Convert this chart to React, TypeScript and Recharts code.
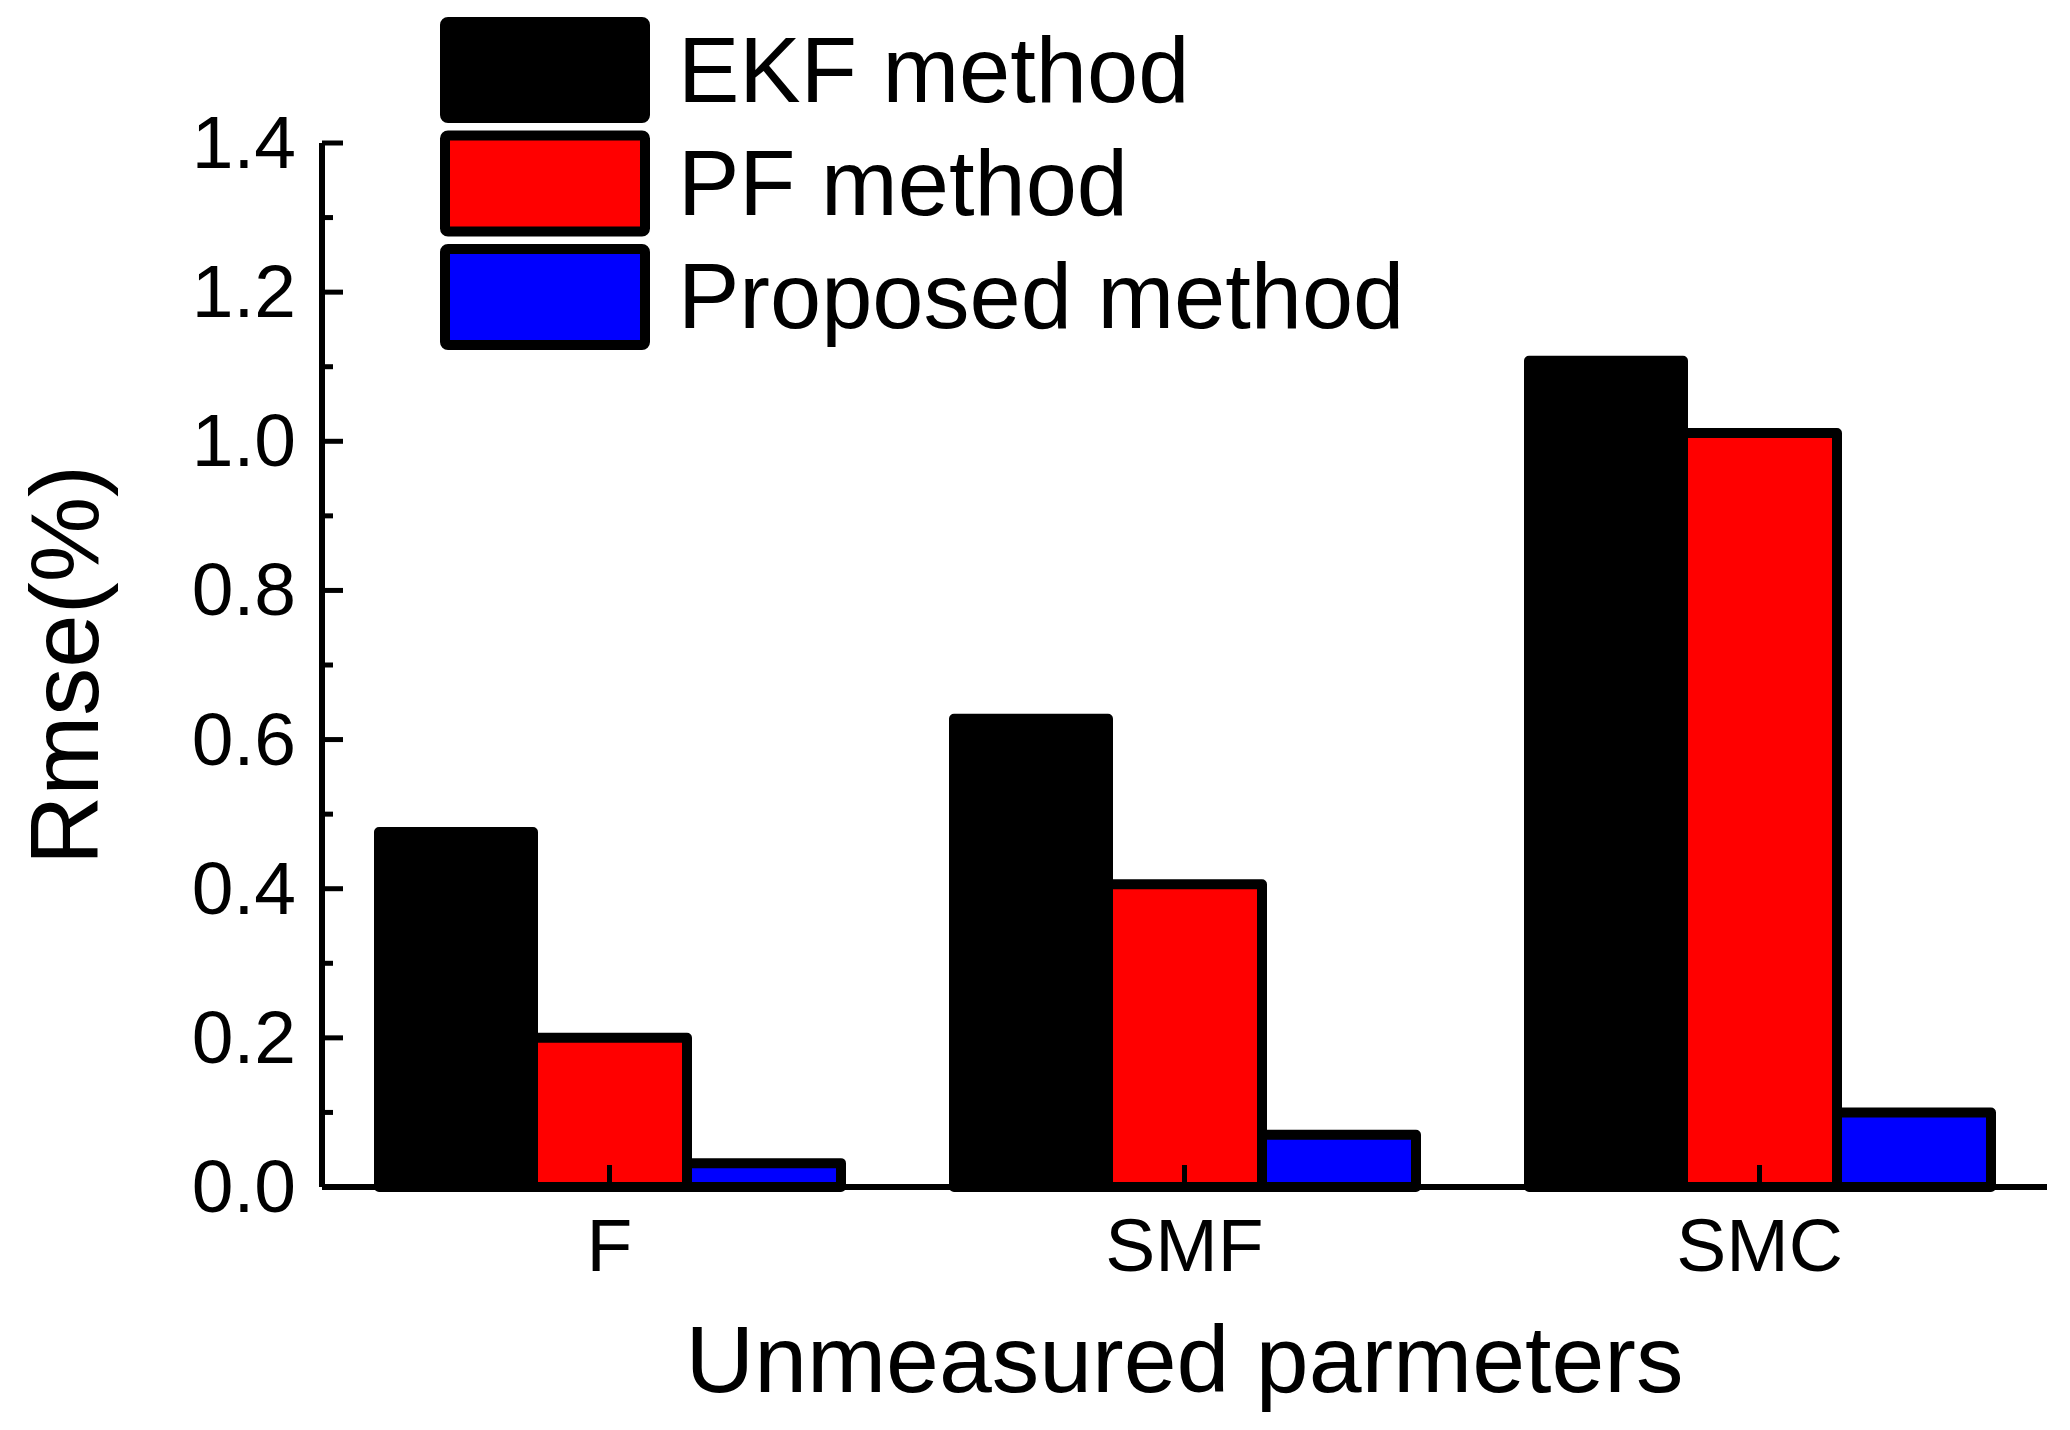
import { BarChart, Bar, XAxis, YAxis, Legend, Label } from "recharts";

const CATEGORIES = ["F", "SMF", "SMC"];
const EKF = [0.476, 0.628, 1.108];
const PF = [0.2, 0.406, 1.011];
const PROPOSED = [0.032, 0.07, 0.1];

const Y_TICKS = [0, 0.1, 0.2, 0.3, 0.4, 0.5, 0.6, 0.7, 0.8, 0.9, 1.0, 1.1, 1.2, 1.3, 1.4];
const Y_LABELS = ["0.0", "", "0.2", "", "0.4", "", "0.6", "", "0.8", "", "1.0", "", "1.2", "", "1.4"];

const SERIES = [
  { key: "ekf", name: "EKF method", color: "#000000" },
  { key: "pf", name: "PF method", color: "#ff0000" },
  { key: "proposed", name: "Proposed method", color: "#0000ff" },
];

const FONT = "'Liberation Sans', Arial, sans-serif";

const data = CATEGORIES.map((name, i) => ({
  name,
  ekf: EKF[i],
  pf: PF[i],
  proposed: PROPOSED[i],
}));

function YTick({ x, y, index }: any) {
  const label = Y_LABELS[index] ?? "";
  const major = label !== "";
  return (
    <g>
      <line x1={x} y1={y} x2={x + (major ? 21 : 11)} y2={y} stroke="#000" strokeWidth={5} />
      {major && (
        <text x={x - 26} y={y + 25} textAnchor="end" fontSize={75} fontFamily={FONT} fill="#000">
          {label}
        </text>
      )}
    </g>
  );
}

function XTick({ x, y, payload }: any) {
  return (
    <g>
      <line x1={x} y1={y} x2={x} y2={y - 22} stroke="#000" strokeWidth={5} />
      <text x={x} y={y + 84} textAnchor="middle" fontSize={75} fontFamily={FONT} fill="#000">
        {payload.value}
      </text>
    </g>
  );
}

function LegendBox({ payload }: any) {
  const items = SERIES.map((s) => {
    const p = (payload || []).find((e: any) => e.dataKey === s.key);
    return { name: p?.value ?? s.name, color: p?.color ?? s.color };
  });
  return (
    <svg width={1000} height={345} style={{ display: "block", overflow: "visible" }}>
      {items.map((e, i) => (
        <g key={e.name}>
          <rect
            x={5}
            y={5 + i * 113.5}
            width={200}
            height={96}
            rx={3}
            fill={e.color}
            stroke="#000"
            strokeWidth={10}
          />
          <text x={238} y={85 + i * 113} fontSize={92} fontFamily={FONT} fill="#000">
            {e.name}
          </text>
        </g>
      ))}
    </svg>
  );
}

export default function App() {
  return (
    <div style={{ position: "absolute", left: 0, top: 0, background: "#fff" }}>
      <BarChart
        width={2070}
        height={1430}
        data={data}
        margin={{ top: 143, right: 23, left: 0, bottom: 0 }}
        barCategoryGap={57}
        barGap={0}
      >
        <Legend
          layout="vertical"
          align="center"
          verticalAlign="middle"
          content={<LegendBox />}
          wrapperStyle={{ left: 440, top: 17, width: 1000, height: 345 }}
        />
        {SERIES.map((s) => (
          <Bar
            key={s.key}
            dataKey={s.key}
            name={s.name}
            fill={s.color}
            stroke="#000"
            strokeWidth={10}
            strokeLinejoin="round"
            isAnimationActive={false}
          />
        ))}
        <XAxis
          dataKey="name"
          height={243}
          axisLine={{ stroke: "#000", strokeWidth: 6 }}
          tickLine={false}
          tickSize={0}
          tickMargin={0}
          tick={<XTick />}
          interval={0}
        >
          <Label
            content={({ viewBox }: any) => {
              const vb = viewBox || { x: 322, y: 1187, width: 1725 };
              return (
                <text
                  x={vb.x + vb.width / 2}
                  y={vb.y + 205}
                  textAnchor="middle"
                  fontSize={95}
                  fontFamily={FONT}
                  fill="#000"
                >
                  Unmeasured parmeters
                </text>
              );
            }}
          />
        </XAxis>
        <YAxis
          type="number"
          domain={[0, 1.4]}
          ticks={Y_TICKS}
          interval={0}
          width={322}
          axisLine={{ stroke: "#000", strokeWidth: 6 }}
          tickLine={false}
          tickSize={0}
          tickMargin={0}
          tick={<YTick />}
        >
          <Label
            content={({ viewBox }: any) => {
              const vb = viewBox || { x: 0, y: 143, height: 1044 };
              const cy = vb.y + vb.height / 2;
              return (
                <text
                  x={98}
                  y={cy}
                  transform={`rotate(-90, 98, ${cy})`}
                  textAnchor="middle"
                  fontSize={96}
                  fontFamily={FONT}
                  fill="#000"
                >
                  Rmse(%)
                </text>
              );
            }}
          />
        </YAxis>
      </BarChart>
    </div>
  );
}
